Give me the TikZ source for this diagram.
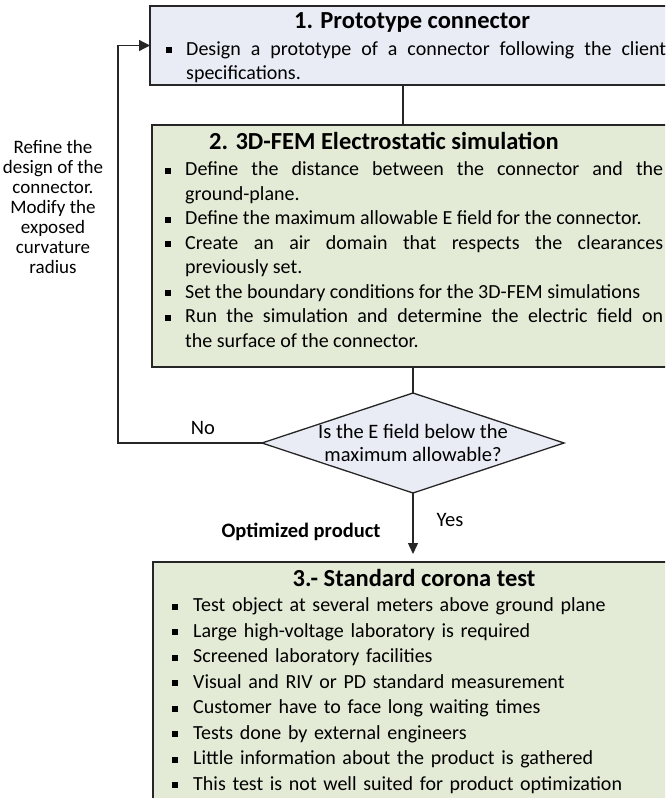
\documentclass[tikz,border=0pt]{standalone}
\usepackage{fontspec}
\setmainfont{Carlito}
\usetikzlibrary{shapes.geometric}
\usetikzlibrary{arrows.meta}
\definecolor{BoxBlue}{HTML}{E9ECF5}
\definecolor{BoxGreen}{HTML}{E3EAD5}
\definecolor{LineGray}{HTML}{262626}
\tikzstyle{stepbox} = [draw=LineGray, line width=1.3pt, rectangle, inner sep=0pt, outer sep=0pt, anchor=north west]
\tikzstyle{check} = [draw=LineGray, line width=1.3pt, diamond, fill=BoxBlue, minimum width=302pt, minimum height=100pt, inner sep=0pt, outer sep=0pt]
\tikzstyle{conn} = [draw=LineGray, line width=1.3pt]
\tikzstyle{title} = [font=\fontsize{24.5}{28}\selectfont\bfseries, inner sep=0pt]
\tikzstyle{body} = [font=\fontsize{20}{24.5}\selectfont, inner sep=0pt, anchor=north west, align=justify]
\tikzstyle{lbl} = [font=\fontsize{20.5}{23}\selectfont, inner sep=0pt, align=center]
\newcommand{\bul}[1][20pt]{\par\noindent\hangindent=#1\hangafter=1\makebox[#1][l]{\rule[2pt]{6pt}{6pt}}\strut}
\hyphenpenalty=10000

\begin{document}
\begin{tikzpicture}[x=1pt,y=-1pt]
  \useasboundingbox (0,0) rectangle (665,798);
  \clip (0,0) rectangle (665,798);

  % the three steps and the check
  \node[stepbox, fill=BoxBlue, minimum width=540pt, minimum height=79pt] (proto) at (150,6) {};
  \node[stepbox, fill=BoxGreen, minimum width=540pt, minimum height=242pt] (fem) at (152,125) {};
  \node[stepbox, fill=BoxGreen, minimum width=540pt, minimum height=260pt] (corona) at (153,562) {};
  \node[check] (check) at (413,443) {};

  \node[title] (t1) at (412,22) {1. Prototype connector};
  \node[body, text width=500pt, font=\fontsize{20}{24}\selectfont] (b1) at (166,31)
    {\bul Design a prototype of a connector following the client\linebreak specifications.\par};

  \node[title] (t2) at (384,141) {2. 3D-FEM Electrostatic simulation};
  \node[body, text width=498pt] (b2) at (165,151)
    {\bul Define the distance between the connector and the\linebreak ground-plane.
     \bul Define the maximum allowable E field for the connector.
     \bul Create an air domain that respects the clearances\linebreak previously set.
     \bul Set the boundary conditions for the 3D-FEM simulations
     \bul Run the simulation and determine the electric field on\linebreak the surface of the connector.\par};

  \node[title] (t3) at (414,578) {3.- Standard corona test};
  \node[body, text width=480pt, align=left, font=\fontsize{20}{25.5}\selectfont] (b3) at (172,586)
    {\bul[21pt]Test object at several meters above ground plane
     \bul[21pt]Large high-voltage laboratory is required
     \bul[21pt]Screened laboratory facilities
     \bul[21pt]Visual and RIV or PD standard measurement
     \bul[21pt]Customer have to face long waiting times
     \bul[21pt]Tests done by external engineers
     \bul[21pt]Little information about the product is gathered
     \bul[21pt]This test is not well suited for product optimization\par};

  \node[lbl] (qt) at (check.center) {Is the E field below the\\maximum allowable?};
  \node[lbl, font=\fontsize{19}{20}\selectfont] (refine) at (53,207)
    {Refine the\\design of the\\connector.\\Modify the\\exposed\\curvature\\radius};
  \node[lbl] (no) at (203,428) {No};
  \node[lbl] (yes) at (450,520) {Yes};
  \node[lbl, font=\fontsize{20.5}{23}\selectfont\bfseries] (opt) at (301,532) {Optimized product};

  % connectors
  \coordinate (j1) at (403,100);
  \coordinate (lp) at (118,300);
  \draw[conn] (proto.south -| j1) -- (fem.north -| j1);
  \draw[conn] (fem.south -| check.north) -- (check.north);
  \draw[conn, -{Triangle[length=11pt,width=10pt]}, shorten >=8pt] (check.south) -- (check.south |- corona.north);
  \draw[conn, -{Triangle[length=11pt,width=11pt]}] (check.west) -| (lp) |- (proto.west);
\end{tikzpicture}
\end{document}
